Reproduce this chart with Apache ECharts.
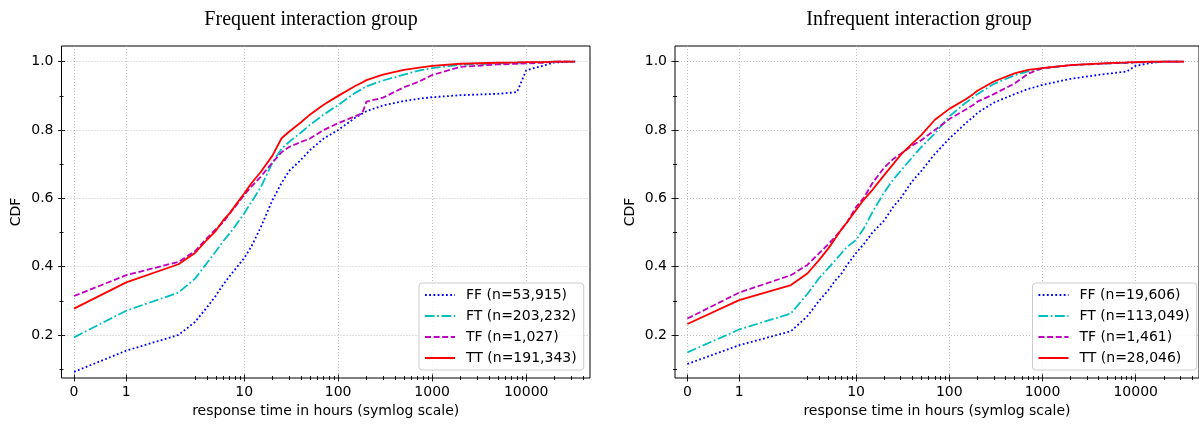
<!DOCTYPE html>
<html>
<head>
<meta charset="utf-8">
<script src="https://cdn.jsdelivr.net/npm/echarts@6/dist/echarts.min.js"></script>
<style>
  html, body { margin: 0; padding: 0; background: #fff; }
  #chart { width: 1199px; height: 424px; }
</style>
</head>
<body>
<div id="chart"></div>
<script>
// response time (hours) where the CDFs were read
const hours = [0, 1, 2, 3, 4, 5, 6, 7, 8, 10, 12, 15, 20, 25, 30, 40, 50, 70, 100, 150, 180, 200, 300, 500, 700, 1000, 2000, 5000, 8000, 10000, 15000, 20000, 33000];

// Frequent interaction group
const freqFF = [0.092, 0.154, 0.200, 0.238, 0.280, 0.315, 0.348, 0.372, 0.392, 0.425, 0.460, 0.515, 0.595, 0.645, 0.680, 0.712, 0.741, 0.775, 0.800, 0.835, 0.848, 0.855, 0.872, 0.885, 0.891, 0.896, 0.902, 0.906, 0.911, 0.975, 0.988, 0.998, 1.0];
const freqFT = [0.193, 0.271, 0.324, 0.365, 0.410, 0.445, 0.475, 0.497, 0.518, 0.556, 0.590, 0.632, 0.705, 0.745, 0.765, 0.792, 0.815, 0.845, 0.873, 0.908, 0.920, 0.928, 0.945, 0.962, 0.973, 0.981, 0.991, 0.995, 0.997, 0.998, 0.999, 1.0, 1.0];
const freqTF = [0.314, 0.375, 0.414, 0.445, 0.483, 0.510, 0.530, 0.556, 0.575, 0.610, 0.635, 0.663, 0.705, 0.735, 0.750, 0.765, 0.775, 0.800, 0.820, 0.840, 0.849, 0.883, 0.895, 0.925, 0.940, 0.961, 0.985, 0.992, 0.994, 0.995, 0.997, 1.0, 1.0];
const freqTT = [0.277, 0.354, 0.407, 0.440, 0.478, 0.505, 0.536, 0.556, 0.578, 0.614, 0.645, 0.677, 0.725, 0.776, 0.795, 0.822, 0.845, 0.874, 0.900, 0.928, 0.939, 0.946, 0.962, 0.976, 0.982, 0.988, 0.994, 0.997, 0.998, 0.999, 0.999, 1.0, 1.0];

// Infrequent interaction group
const infFF = [0.115, 0.170, 0.211, 0.255, 0.300, 0.330, 0.360, 0.380, 0.405, 0.440, 0.465, 0.500, 0.535, 0.575, 0.600, 0.650, 0.680, 0.730, 0.775, 0.820, 0.838, 0.850, 0.880, 0.905, 0.920, 0.932, 0.950, 0.965, 0.971, 0.988, 0.997, 1.0, 1.0];
const infFT = [0.149, 0.216, 0.263, 0.320, 0.366, 0.395, 0.419, 0.440, 0.458, 0.478, 0.510, 0.560, 0.617, 0.655, 0.680, 0.720, 0.750, 0.790, 0.840, 0.880, 0.895, 0.905, 0.935, 0.960, 0.972, 0.981, 0.990, 0.995, 0.997, 0.998, 0.999, 1.0, 1.0];
const infTF = [0.248, 0.324, 0.375, 0.405, 0.439, 0.465, 0.488, 0.510, 0.530, 0.575, 0.600, 0.645, 0.690, 0.715, 0.730, 0.755, 0.770, 0.800, 0.832, 0.860, 0.873, 0.883, 0.905, 0.936, 0.965, 0.981, 0.990, 0.995, 0.997, 0.998, 0.999, 1.0, 1.0];
const infTT = [0.232, 0.302, 0.346, 0.380, 0.419, 0.452, 0.483, 0.510, 0.530, 0.566, 0.595, 0.625, 0.668, 0.700, 0.727, 0.760, 0.785, 0.830, 0.862, 0.890, 0.905, 0.915, 0.942, 0.966, 0.976, 0.981, 0.990, 0.996, 0.998, 0.999, 1.0, 1.0, 1.0];

const freqNames = ['FF (n=53,915)', 'FT (n=203,232)', 'TF (n=1,027)', 'TT (n=191,343)'];
const infNames = ['FF (n=19,606)', 'FT (n=113,049)', 'TF (n=1,461)', 'TT (n=28,046)'];
const titles = ['Frequent interaction group', 'Infrequent interaction group'];

// tick labels
const xMajorHours = [0, 1, 10, 100, 1000, 10000];
const xMajorLabels = ['0', '1', '10', '100', '1000', '10000'];
const xMinorHours = [3, 4, 5, 6, 7, 8, 9, 20, 30, 40, 50, 60, 70, 80, 90, 200, 300, 400, 500, 600, 700, 800, 900,
    2000, 3000, 4000, 5000, 6000, 7000, 8000, 9000, 20000, 30000, 40000];
const yMajor = [0.2, 0.4, 0.6, 0.8, 1.0];
const yMinor = [0.1, 0.3, 0.5, 0.7, 0.9];

// symlog, linthresh = 2, linscale = 1 (one unit = one decade)
function symlog(h) {
    if (h <= 2) return h / 1.8;
    return 1 / 0.9 + Math.log10(h / 2);
}

const xMajor = xMajorHours.map(symlog);
const xMinor = xMinorHours.map(symlog);
const xMin = -0.133, xMax = 5.489;
const yMin = 0.074, yMax = 1.046;

const font = 'DejaVu Sans';
const tickStyle = { color: '#000', width: 0.9 };

function xAxesFor(gi) {
    const base = { type: 'value', gridIndex: gi, min: xMin, max: xMax, axisLine: { show: false, onZero: false }, position: 'bottom' };
    return [
        Object.assign({}, base, {
            axisTick: { customValues: xMajor, length: 3.5, lineStyle: tickStyle },
            axisLabel: {
                customValues: xMajor, margin: 7, fontSize: 14, color: '#000', fontFamily: font,
                formatter: function (v) {
                    for (let i = 0; i < xMajor.length; i++) {
                        if (Math.abs(xMajor[i] - v) < 1e-6) return xMajorLabels[i];
                    }
                    return '';
                }
            },
            splitLine: { show: true, lineStyle: { color: '#b0b0b0', width: 0.8, type: [1, 2] } },
            name: 'response time in hours (symlog scale)',
            nameLocation: 'middle',
            nameGap: 25,
            nameTextStyle: { fontSize: 14, color: '#000', fontFamily: font }
        }),
        Object.assign({}, base, {
            axisTick: { customValues: xMajor, length: 3.5, inside: true, lineStyle: tickStyle },
            axisLabel: { show: false }, splitLine: { show: false }
        }),
        Object.assign({}, base, {
            axisTick: { customValues: xMinor, length: 2, lineStyle: tickStyle },
            axisLabel: { show: false }, splitLine: { show: false }
        }),
        Object.assign({}, base, {
            axisTick: { customValues: xMinor, length: 2, inside: true, lineStyle: tickStyle },
            axisLabel: { show: false }, splitLine: { show: false }
        })
    ];
}

function yAxesFor(gi) {
    const base = { type: 'value', gridIndex: gi, min: yMin, max: yMax, axisLine: { show: false, onZero: false }, position: 'left' };
    return [
        Object.assign({}, base, {
            axisTick: { customValues: yMajor, length: 3.5, lineStyle: tickStyle },
            axisLabel: {
                customValues: yMajor, margin: 8, fontSize: 14, color: '#000', fontFamily: font,
                formatter: function (v) { return v.toFixed(1); }
            },
            splitLine: { show: true, lineStyle: { color: '#b0b0b0', width: 0.8, type: [1, 2] } },
            name: 'CDF',
            nameLocation: 'middle',
            nameGap: 38,
            nameTextStyle: { fontSize: 14, color: '#000', fontFamily: font }
        }),
        Object.assign({}, base, {
            axisTick: { customValues: yMajor, length: 3.5, inside: true, lineStyle: tickStyle },
            axisLabel: { show: false }, splitLine: { show: false }
        }),
        Object.assign({}, base, {
            axisTick: { customValues: yMinor, length: 2, lineStyle: tickStyle },
            axisLabel: { show: false }, splitLine: { show: false }
        }),
        Object.assign({}, base, {
            axisTick: { customValues: yMinor, length: 2, inside: true, lineStyle: tickStyle },
            axisLabel: { show: false }, splitLine: { show: false }
        })
    ];
}

// FF blue dotted, FT cyan dash-dot, TF magenta dashed, TT red solid
const colors = ['#0000ff', '#00bfbf', '#bf00bf', '#ff0000'];
const dashes = [[1.8, 2.4], [9.6, 2.6, 1.8, 2.6], [6, 2.6], 'solid'];

function makeSeries(names, valueLists, gi) {
    return valueLists.map(function (vals, k) {
        return {
            type: 'line',
            name: names[k],
            xAxisIndex: gi * 4,
            yAxisIndex: gi * 4,
            data: hours.map(function (h, i) { return [symlog(h), vals[i]]; }),
            symbol: 'none',
            showSymbol: false,
            lineStyle: { color: colors[k], width: 1.8, type: dashes[k] },
            itemStyle: { color: colors[k] }
        };
    });
}

function legendFor(names, left) {
    return {
        data: names,
        orient: 'vertical',
        left: left,
        top: 283,
        itemWidth: 30,
        itemHeight: 14,
        itemGap: 7,
        padding: [5, 7, 5, 5],
        backgroundColor: 'rgba(255,255,255,0.8)',
        borderColor: '#cccccc',
        borderWidth: 1,
        borderRadius: 3,
        selectedMode: false,
        itemStyle: { opacity: 0 },
        textStyle: { fontSize: 14, color: '#000', fontFamily: font, padding: [0, 0, 0, 6] }
    };
}

const myChart = echarts.init(document.getElementById('chart'), null, { renderer: 'canvas' });

const option = {
    animation: false,
    backgroundColor: '#fff',
    title: [
        { text: titles[0], left: 306, top: 5, textAlign: 'center',
          textStyle: { fontFamily: 'Liberation Serif', fontSize: 20, fontWeight: 'normal', color: '#000' } },
        { text: titles[1], left: 914, top: 5, textAlign: 'center',
          textStyle: { fontFamily: 'Liberation Serif', fontSize: 20, fontWeight: 'normal', color: '#000' } }
    ],
    grid: [
        { left: 61.5, top: 46, width: 528.5, height: 332, show: true, borderColor: '#000', borderWidth: 1, backgroundColor: 'transparent' },
        { left: 675, top: 46, width: 528.5, height: 332, show: true, borderColor: '#000', borderWidth: 1, backgroundColor: 'transparent' }
    ],
    xAxis: xAxesFor(0).concat(xAxesFor(1)),
    yAxis: yAxesFor(0).concat(yAxesFor(1)),
    legend: [legendFor(freqNames, 419), legendFor(infNames, 1032.5)],
    series: makeSeries(freqNames, [freqFF, freqFT, freqTF, freqTT], 0)
        .concat(makeSeries(infNames, [infFF, infFT, infTF, infTT], 1))
};

myChart.setOption(option);
</script>
</body>
</html>
